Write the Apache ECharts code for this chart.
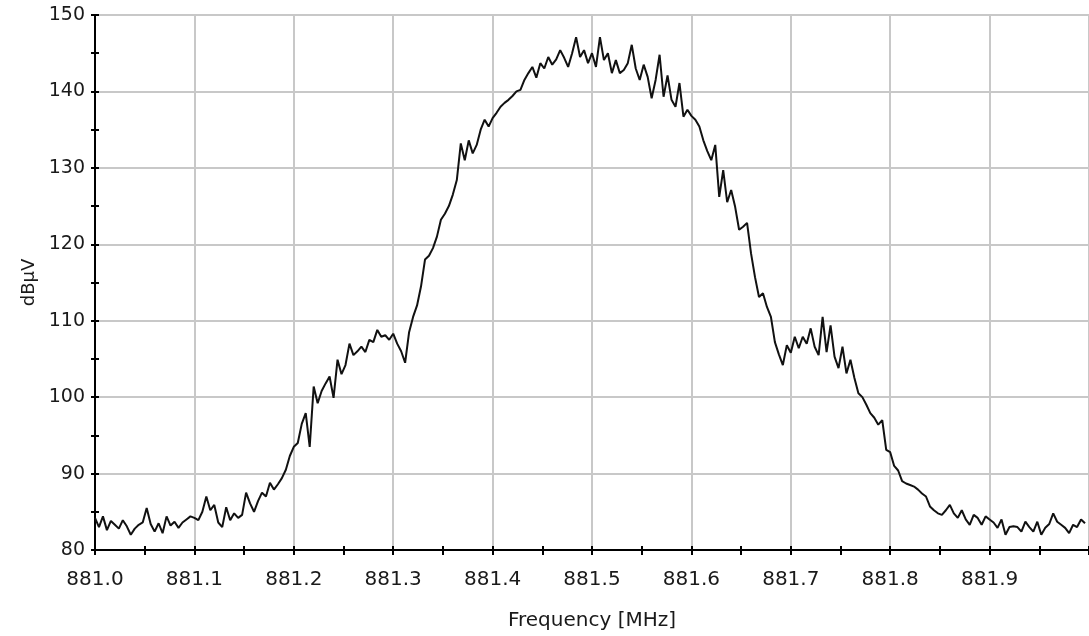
<!DOCTYPE html>
<html>
<head>
<meta charset="utf-8">
<script src="https://cdn.jsdelivr.net/npm/echarts@6/dist/echarts.min.js"></script>
<style>
  html, body { margin: 0; padding: 0; background: #ffffff; }
  #chart { width: 1089px; height: 636px; }
</style>
</head>
<body>
<div id="chart"></div>
<script>
// Spectrum sweep: start frequency and step between samples (MHz)
const sweepStartMHz = 881.0;
const sweepStepMHz = 0.004;

// Measured level per sweep sample (dBµV)
const levelDbuv = [
  84.2, 83.0, 84.4, 82.6, 83.8, 83.3, 82.8, 83.9, 83.1, 82.0,
  82.8, 83.3, 83.6, 85.5, 83.4, 82.4, 83.5, 82.2, 84.4, 83.2,
  83.7, 82.9, 83.6, 84.0, 84.4, 84.2, 83.9, 85.0, 87.0, 85.2,
  85.9, 83.6, 83.0, 85.6, 83.9, 84.8, 84.2, 84.6, 87.5, 86.1,
  85.0, 86.4, 87.5, 87.0, 88.8, 87.9, 88.6, 89.4, 90.5, 92.3,
  93.5,
  94.0, 96.5, 97.9, 93.5, 101.4, 99.2, 100.8, 101.8, 102.7, 99.9,
  104.9, 103.0, 104.2, 107.0, 105.5, 106.0, 106.6, 105.9, 107.5, 107.2,
  108.8, 107.9, 108.1, 107.5, 108.3, 107.0, 106.0, 104.5, 108.5, 110.5,
  112.0, 114.5, 118.0, 118.5, 119.5, 121.0, 123.2, 124.0, 125.0, 126.5,
  128.4, 133.2,
  131.0, 133.6, 131.9, 133.0, 135.0, 136.3, 135.4, 136.5, 137.2, 138.0,
  138.5, 138.9, 139.4, 140.0, 140.2, 141.5, 142.4, 143.2, 141.8, 143.7,
  143.0, 144.5, 143.5, 144.2, 145.4, 144.4, 143.2, 145.0, 147.1, 144.5,
  145.4, 143.7, 145.0, 143.2, 147.1, 144.1, 145.0, 142.4,
  144.1, 142.4, 142.8, 143.7, 146.1, 143.0, 141.5, 143.5, 141.9, 139.1,
  141.5, 144.8, 139.3, 142.1, 138.9, 138.0, 141.1, 136.7, 137.6, 136.8,
  136.3, 135.4, 133.6, 132.2, 131.0, 133.0, 126.2, 129.7, 125.5, 127.1,
  124.9, 121.9, 122.3, 122.8, 118.8, 115.7, 113.1, 113.6, 111.8, 110.5,
  107.2, 105.6, 104.2,
  106.8, 105.8, 107.9, 106.4, 107.9, 107.0, 109.0, 106.6, 105.5, 110.5,
  105.9, 109.4, 105.3, 103.8, 106.6, 103.1, 104.9, 102.5, 100.5, 100.0,
  99.0, 97.9, 97.3, 96.4, 97.0, 93.1, 92.8, 91.0, 90.4, 89.0,
  88.7, 88.5, 88.3, 87.9, 87.4, 87.0, 85.7, 85.2, 84.8, 84.6,
  85.2, 85.9, 84.8, 84.2, 85.2, 84.0, 83.3, 84.6, 84.2, 83.3,
  84.4, 84.0, 83.6, 82.9, 84.0, 82.0, 83.0, 83.1, 83.0, 82.4,
  83.7, 83.0, 82.4, 83.7, 82.0, 82.9, 83.4, 84.8, 83.7, 83.3,
  82.9, 82.2, 83.3, 83.0, 84.0, 83.5
];

// Axis ranges
const freqMin = 881.0, freqMax = 882.0, freqInterval = 0.1;
const levelMin = 80, levelMax = 150, levelInterval = 10;

const points = levelDbuv.map((v, i) => [sweepStartMHz + i * sweepStepMHz, v]);

const font = 'DejaVu Sans';
const textColor = '#1a1a1a';
const axisLineStyle = { color: '#000', width: 2 };
const tickStyle = { color: '#000', width: 2 };

const chart = echarts.init(document.getElementById('chart'), null, { renderer: 'canvas' });
chart.setOption({
  animation: false,
  backgroundColor: '#ffffff',
  grid: {
    left: 95, top: 15, width: 1001, height: 535,
    show: true, borderColor: '#000', borderWidth: 2, backgroundColor: 'transparent'
  },
  xAxis: [
    {
      type: 'value', min: freqMin, max: freqMax, interval: freqInterval,
      position: 'bottom',
      name: 'Frequency [MHz]', nameLocation: 'middle', nameGap: 61,
      nameTextStyle: { fontFamily: font, fontSize: 20, color: textColor },
      axisLine: { show: true, lineStyle: axisLineStyle },
      axisTick: { show: true, inside: false, length: 5, lineStyle: tickStyle },
      minorTick: { show: true, splitNumber: 2, length: 5, lineStyle: tickStyle },
      axisLabel: {
        fontFamily: font, fontSize: 20, color: textColor, margin: 20,
        showMaxLabel: false,
        formatter: v => v.toFixed(1)
      },
      splitLine: { show: true, lineStyle: { color: '#c8c8c8', width: 2 } }
    },
    {
      type: 'value', min: freqMin, max: freqMax, interval: freqInterval,
      position: 'bottom',
      axisLine: { show: false },
      axisTick: { show: true, inside: true, length: 4, lineStyle: tickStyle },
      minorTick: { show: true, splitNumber: 2, length: 4, lineStyle: tickStyle },
      axisLabel: { show: false },
      splitLine: { show: false }
    }
  ],
  yAxis: [
    {
      type: 'value', min: levelMin, max: levelMax, interval: levelInterval,
      position: 'left',
      name: 'dBµV', nameLocation: 'middle', nameGap: 56, nameRotate: 90,
      nameTextStyle: { fontFamily: font, fontSize: 18, color: textColor },
      axisLine: { show: true, lineStyle: axisLineStyle },
      axisTick: { show: true, inside: false, length: 4, lineStyle: tickStyle },
      minorTick: { show: true, splitNumber: 2, length: 4, lineStyle: tickStyle },
      axisLabel: { fontFamily: font, fontSize: 19, color: textColor, margin: 10 },
      splitLine: { show: true, lineStyle: { color: '#c8c8c8', width: 2 } }
    },
    {
      type: 'value', min: levelMin, max: levelMax, interval: levelInterval,
      position: 'left',
      axisLine: { show: false },
      axisTick: { show: true, inside: true, length: 4, lineStyle: tickStyle },
      minorTick: { show: true, splitNumber: 2, length: 4, lineStyle: tickStyle },
      axisLabel: { show: false },
      splitLine: { show: false }
    }
  ],
  series: [
    {
      type: 'line',
      xAxisIndex: 0, yAxisIndex: 0,
      data: points,
      showSymbol: false,
      smooth: false,
      lineStyle: { color: '#111', width: 2 },
      silent: true
    }
  ]
});
</script>
</body>
</html>
